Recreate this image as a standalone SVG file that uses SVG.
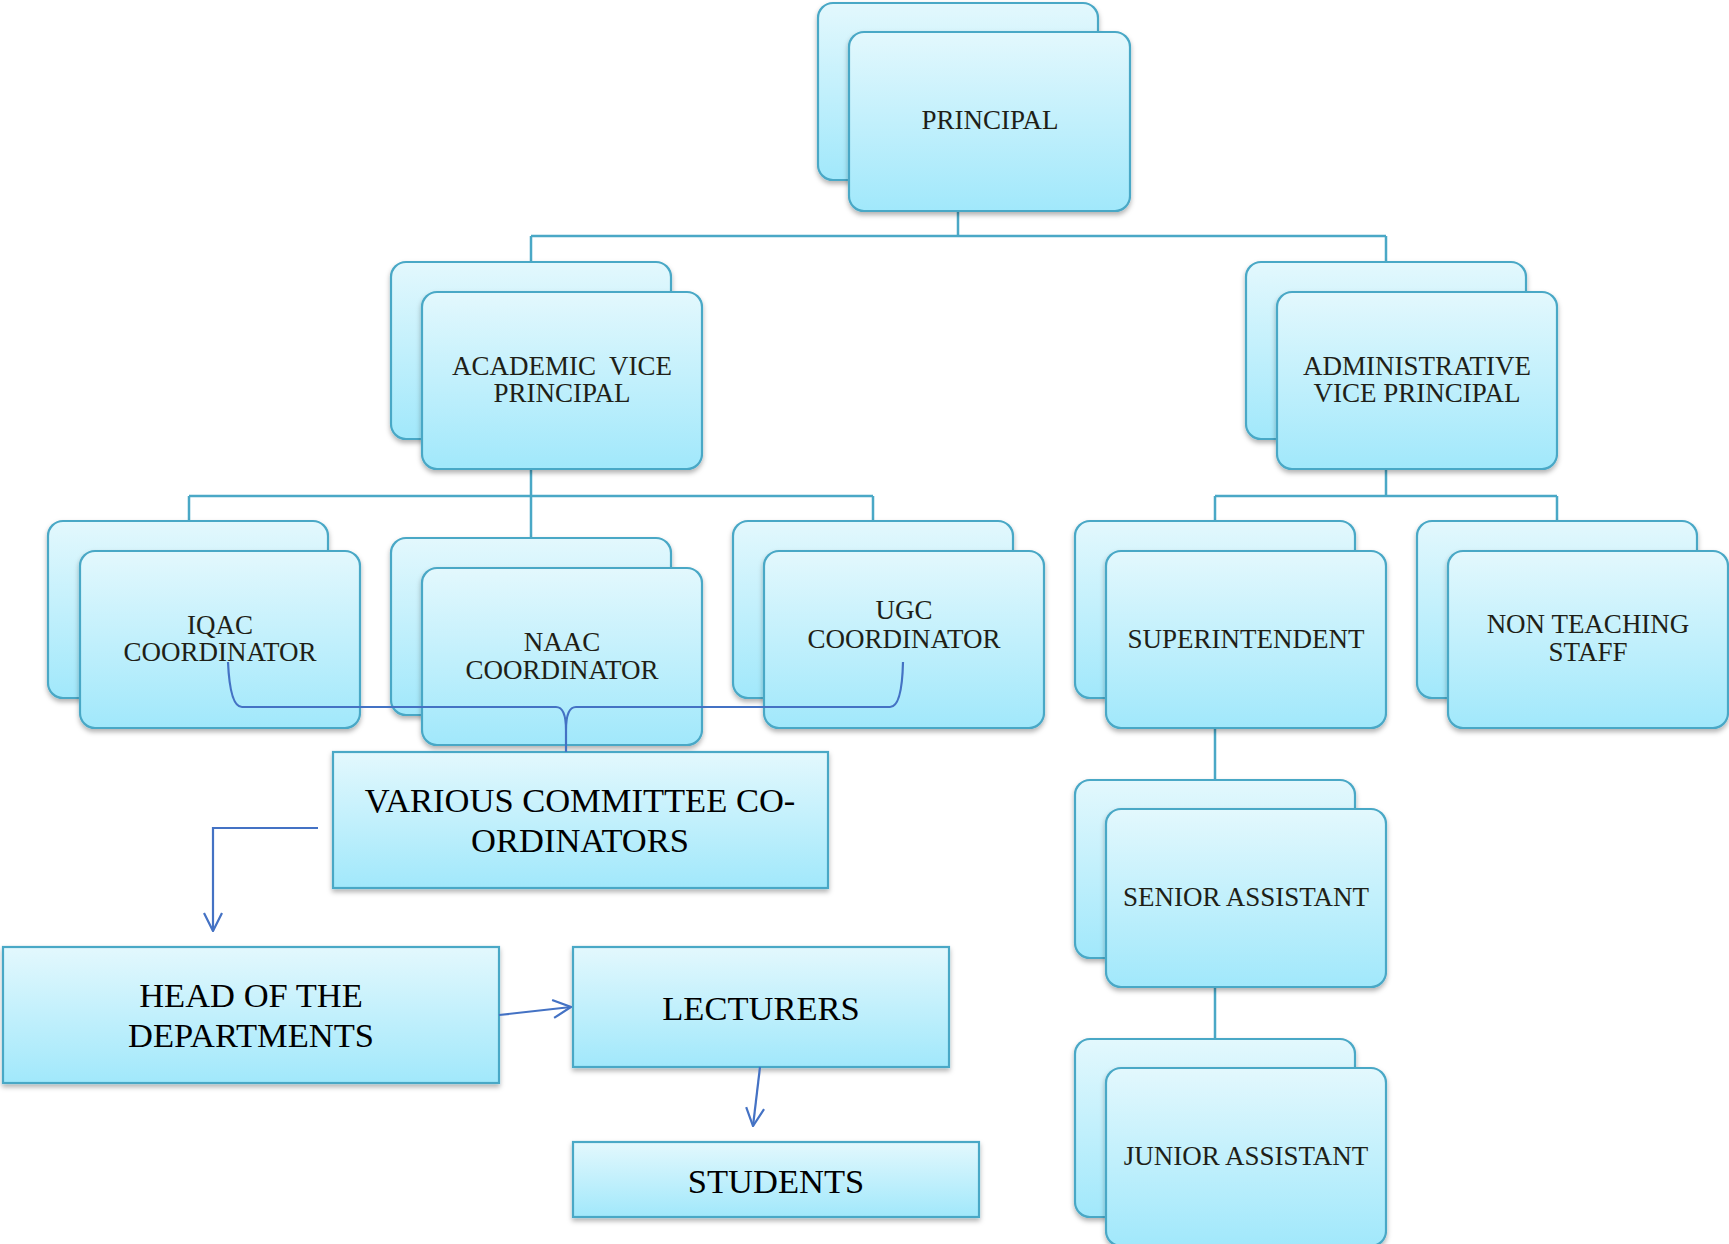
<svg xmlns="http://www.w3.org/2000/svg" width="1729" height="1244" viewBox="0 0 1729 1244">
<style>
.bx{fill:url(#g);stroke:#4aa8c6;stroke-width:2.2;filter:url(#sh)}
.ln{fill:none;stroke:#4aa8c6;stroke-width:2.5}
.bl{fill:none;stroke:#4472c4;stroke-width:2.2}
.t{font-family:"Liberation Serif","Times New Roman",serif;font-size:27px;fill:#1f1f17;text-anchor:middle}
.T{font-family:"Liberation Serif","Times New Roman",serif;font-size:34.5px;fill:#000;text-anchor:middle}
</style>
<defs>
<linearGradient id="g" x1="0" y1="0" x2="0" y2="1">
<stop offset="0" stop-color="#e3f8fd"/>
<stop offset="1" stop-color="#a1e8fb"/>
</linearGradient>
<filter id="sh" x="-10%" y="-10%" width="120%" height="130%">
<feDropShadow dx="0" dy="3" stdDeviation="2.5" flood-color="#000" flood-opacity="0.3"/>
</filter>
<marker id="ar" viewBox="0 0 20 20" refX="19" refY="10" markerWidth="20" markerHeight="20" markerUnits="userSpaceOnUse" orient="auto">
<path d="M1,1 L19,10 L1,19" fill="none" stroke="#4472c4" stroke-width="2.2"/>
</marker>
</defs>
<rect width="1729" height="1244" fill="#fff"/>
<g id="connectors">
<path class="ln" d="M958 211V236M531 236H1386M531 236V262M1386 236V262"/>
<path class="ln" d="M531 469V496M189 496H873M189 496V521M531 496V538M873 496V521"/>
<path class="ln" d="M1386 469V496M1215 496H1557M1215 496V521M1557 496V521"/>
<path class="ln" d="M1215 728V780M1215 987V1039"/>
</g>
<g id="principal">
<rect class="bx" x="818" y="3" width="280" height="177" rx="15"/>
<rect class="bx" x="849" y="32" width="281" height="179" rx="15"/>
<text class="t" x="990" y="129">PRINCIPAL</text>
</g>
<g id="academic-vp">
<rect class="bx" x="391" y="262" width="280" height="177" rx="15"/>
<rect class="bx" x="422" y="292" width="280" height="177" rx="15"/>
<text class="t" x="562" y="375" xml:space="preserve">ACADEMIC  VICE</text>
<text class="t" x="562" y="402">PRINCIPAL</text>
</g>
<g id="admin-vp">
<rect class="bx" x="1246" y="262" width="280" height="177" rx="15"/>
<rect class="bx" x="1277" y="292" width="280" height="177" rx="15"/>
<text class="t" x="1417" y="375">ADMINISTRATIVE</text>
<text class="t" x="1417" y="402">VICE PRINCIPAL</text>
</g>
<g id="iqac">
<rect class="bx" x="48" y="521" width="280" height="177" rx="15"/>
<rect class="bx" x="80" y="551" width="280" height="177" rx="15"/>
<text class="t" x="220" y="634">IQAC</text>
<text class="t" x="220" y="661">COORDINATOR</text>
</g>
<g id="naac">
<rect class="bx" x="391" y="538" width="280" height="177" rx="15"/>
<rect class="bx" x="422" y="568" width="280" height="177" rx="15"/>
<text class="t" x="562" y="651">NAAC</text>
<text class="t" x="562" y="679">COORDINATOR</text>
</g>
<g id="ugc">
<rect class="bx" x="733" y="521" width="280" height="177" rx="15"/>
<rect class="bx" x="764" y="551" width="280" height="177" rx="15"/>
<text class="t" x="904" y="619">UGC</text>
<text class="t" x="904" y="648">COORDINATOR</text>
</g>
<g id="superintendent">
<rect class="bx" x="1075" y="521" width="280" height="177" rx="15"/>
<rect class="bx" x="1106" y="551" width="280" height="177" rx="15"/>
<text class="t" x="1246" y="648">SUPERINTENDENT</text>
</g>
<g id="non-teaching">
<rect class="bx" x="1417" y="521" width="280" height="177" rx="15"/>
<rect class="bx" x="1448" y="551" width="280" height="177" rx="15"/>
<text class="t" x="1588" y="633">NON TEACHING</text>
<text class="t" x="1588" y="661">STAFF</text>
</g>
<g id="senior-assistant">
<rect class="bx" x="1075" y="780" width="280" height="178" rx="15"/>
<rect class="bx" x="1106" y="809" width="280" height="178" rx="15"/>
<text class="t" x="1246" y="906">SENIOR ASSISTANT</text>
</g>
<g id="junior-assistant">
<rect class="bx" x="1075" y="1039" width="280" height="178" rx="15"/>
<rect class="bx" x="1106" y="1068" width="280" height="178" rx="15"/>
<text class="t" x="1246" y="1165">JUNIOR ASSISTANT</text>
</g>
<g id="various-committee">
<rect class="bx" x="333" y="752" width="495" height="136"/>
<text class="T" x="580" y="812">VARIOUS COMMITTEE CO-</text>
<text class="T" x="580" y="852">ORDINATORS</text>
</g>
<g id="head-of-departments">
<rect class="bx" x="3" y="947" width="496" height="136"/>
<text class="T" x="251" y="1007">HEAD OF THE</text>
<text class="T" x="251" y="1047">DEPARTMENTS</text>
</g>
<g id="lecturers">
<rect class="bx" x="573" y="947" width="376" height="120"/>
<text class="T" x="761" y="1020">LECTURERS</text>
</g>
<g id="students">
<rect class="bx" x="573" y="1142" width="406" height="75"/>
<text class="T" x="776" y="1193">STUDENTS</text>
</g>
<g id="blue-connectors">
<path class="bl" d="M228 662Q230 707 242 707L556 707Q566 707 566 730Q566 707 576 707L890 707Q902 707 903 662M566 730V752"/>
<path class="bl" d="M318 828H213V931" marker-end="url(#ar)"/>
<path class="bl" d="M499 1015L571 1007" marker-end="url(#ar)"/>
<path class="bl" d="M760 1067L753 1126" marker-end="url(#ar)"/>
</g>
</svg>
